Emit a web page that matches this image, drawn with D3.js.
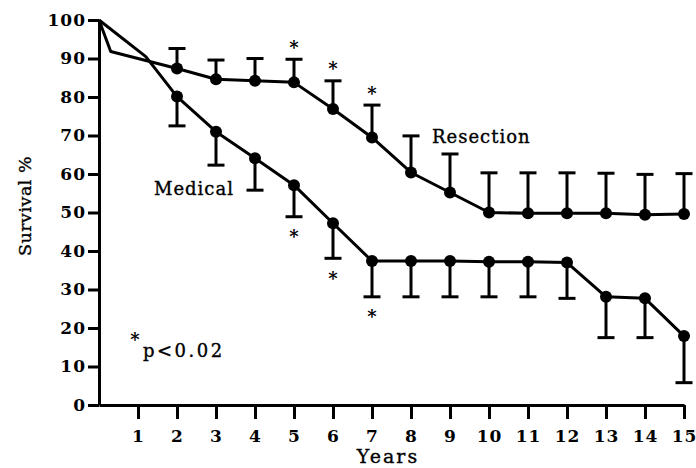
<!DOCTYPE html>
<html>
<head>
<meta charset="utf-8">
<script src="https://cdn.jsdelivr.net/npm/d3@7"></script>
<style>
  html, body { margin: 0; padding: 0; background: #fff; }
  svg { display: block; }
  text { font-family: "DejaVu Serif", serif; fill: #000; }
</style>
</head>
<body>
<svg id="chart" width="696" height="468"></svg>
<script>
// ---- data ----
const years = [2, 3, 4, 5, 6, 7, 8, 9, 10, 11, 12, 13, 14, 15];
const resection = [87.4, 84.6, 84.2, 83.8, 76.9, 69.5, 60.4, 55.2, 50.0, 49.8, 49.8, 49.8, 49.4, 49.6];
const resectionUpper = [92.6, 89.6, 90.0, 89.8, 84.2, 77.9, 69.9, 65.2, 60.3, 60.3, 60.3, 60.2, 59.9, 60.1];
const medical = [80.1, 71.0, 64.1, 57.1, 47.2, 37.4, 37.4, 37.4, 37.2, 37.2, 37.0, 28.1, 27.7, 17.9];
const medicalLower = [72.5, 62.3, 55.8, 48.9, 38.1, 28.1, 28.1, 28.1, 28.1, 28.1, 27.7, 17.5, 17.5, 5.8];
const resectionStart = [[0, 100], [0.3, 91.8]];
const medicalStart = [[0, 100], [1.2, 90.5]];
const sigYears = [5, 6, 7];
const xTicks = [1, 2, 3, 4, 5, 6, 7, 8, 9, 10, 11, 12, 13, 14, 15];
const yTicks = [0, 10, 20, 30, 40, 50, 60, 70, 80, 90, 100];

// ---- chart ----
const svg = d3.select("#chart");
const x = d3.scaleLinear().domain([0, 15]).range([99, 684]);
const y = d3.scaleLinear().domain([0, 100]).range([405, 20]);
const SW = 3;

// axes
const yAxis = d3.axisLeft(y).tickValues(yTicks).tickSize(11).tickSizeOuter(0).tickPadding(2);
const gy = svg.append("g").attr("transform", `translate(${x(0)},0)`).call(yAxis);
const xAxis = d3.axisBottom(x).tickValues(xTicks).tickSize(14).tickSizeOuter(0).tickPadding(11);
const gx = svg.append("g").attr("transform", `translate(0,${y(0)})`).call(xAxis);
[gx, gy].forEach(g => {
  g.selectAll("path.domain").attr("stroke", "#000").attr("stroke-width", SW);
  g.selectAll(".tick line").attr("stroke", "#000").attr("stroke-width", SW);
  g.selectAll(".tick text").attr("font-family", "DejaVu Serif").attr("font-weight", "bold")
    .attr("font-size", 17).attr("fill", "#000").attr("letter-spacing", 1);
});

const line = d3.line().x(d => x(d[0])).y(d => y(d[1]));
const resPts = resectionStart.concat(years.map((yr, i) => [yr, resection[i]]));
const medPts = medicalStart.concat(years.map((yr, i) => [yr, medical[i]]));

// error bars
const capW = 8.5;
function errBars(vals, ends) {
  const g = svg.append("g").attr("stroke", "#000").attr("stroke-width", SW).attr("fill", "none");
  years.forEach((yr, i) => {
    g.append("line").attr("x1", x(yr)).attr("x2", x(yr)).attr("y1", y(vals[i])).attr("y2", y(ends[i]));
    g.append("line").attr("x1", x(yr) - capW).attr("x2", x(yr) + capW).attr("y1", y(ends[i])).attr("y2", y(ends[i]));
  });
}
errBars(resection, resectionUpper);
errBars(medical, medicalLower);

svg.append("path").attr("d", line(resPts)).attr("fill", "none").attr("stroke", "#000").attr("stroke-width", SW).attr("stroke-linejoin", "round");
svg.append("path").attr("d", line(medPts)).attr("fill", "none").attr("stroke", "#000").attr("stroke-width", SW).attr("stroke-linejoin", "round");

// markers
[resection, medical].forEach(vals => {
  svg.append("g").selectAll("circle").data(years).join("circle")
    .attr("cx", d => x(d)).attr("cy", (d, i) => y(vals[i])).attr("r", 6).attr("fill", "#000");
});

// asterisks
const astFs = 18;
sigYears.forEach(yr => {
  const i = years.indexOf(yr);
  svg.append("text").attr("x", x(yr)).attr("y", y(resectionUpper[i]) - 16 + 0.59 * astFs)
    .attr("text-anchor", "middle").attr("font-family", "DejaVu Sans").attr("font-weight", "bold").attr("font-size", astFs).text("*");
  svg.append("text").attr("x", x(yr)).attr("y", y(medicalLower[i]) + 16 + 0.59 * astFs)
    .attr("text-anchor", "middle").attr("font-family", "DejaVu Sans").attr("font-weight", "bold").attr("font-size", astFs).text("*");
});

// labels
const lab = (t) => t.attr("stroke", "#000").attr("stroke-width", 0.35);
lab(svg.append("text").attr("x", 154).attr("y", 195).attr("font-size", 18).attr("letter-spacing", 1).text("Medical"));
lab(svg.append("text").attr("x", 432).attr("y", 143).attr("font-size", 18).attr("letter-spacing", 1).text("Resection"));
lab(svg.append("text").attr("transform", "translate(31,206) rotate(-90)").attr("text-anchor", "middle").attr("font-size", 17.5).attr("letter-spacing", 0.5).text("Survival %"));
lab(svg.append("text").attr("x", 388).attr("y", 463).attr("text-anchor", "middle").attr("font-size", 19).attr("letter-spacing", 2).text("Years"));
svg.append("text").attr("x", 135).attr("y", 335 + 0.59 * astFs).attr("text-anchor", "middle").attr("font-family", "DejaVu Sans").attr("font-weight", "bold").attr("font-size", astFs).text("*");
lab(svg.append("text").attr("x", 143).attr("y", 357).attr("font-size", 18).attr("letter-spacing", 2.5).text("p<0.02"));
</script>
</body>
</html>
